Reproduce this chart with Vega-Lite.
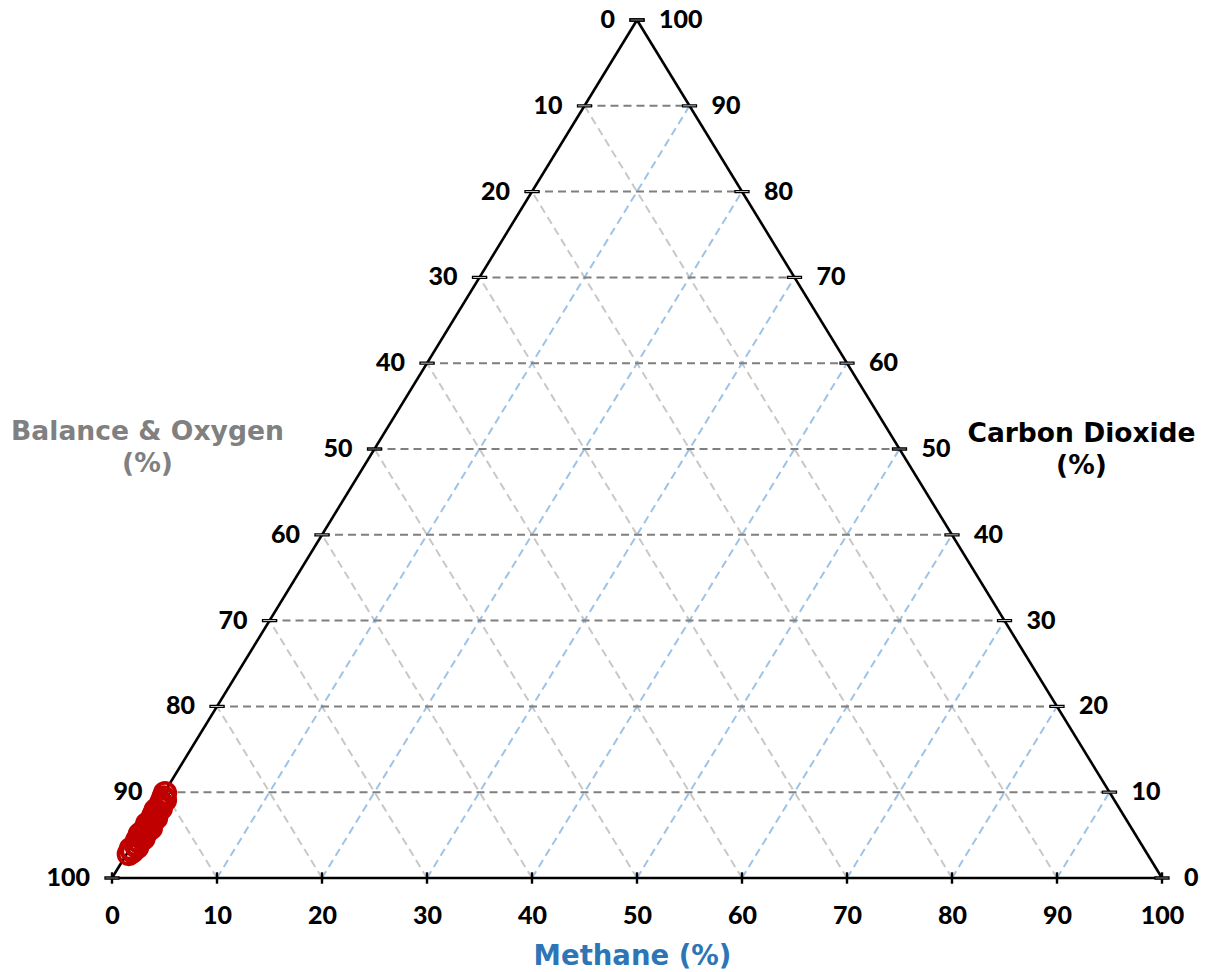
{
  "$schema": "https://vega.github.io/schema/vega-lite/v6.json",
  "width": 1050,
  "height": 858,
  "autosize": {"type": "none"},
  "padding": {"left": 112, "top": 20, "right": 45, "bottom": 94},
  "background": "white",
  "config": {"view": {"stroke": null}},
  "datasets": {
    "co2Lines": [
      {"m1": 0, "c1": 10, "m2": 90, "c2": 10},
      {"m1": 0, "c1": 20, "m2": 80, "c2": 20},
      {"m1": 0, "c1": 30, "m2": 70, "c2": 30},
      {"m1": 0, "c1": 40, "m2": 60, "c2": 40},
      {"m1": 0, "c1": 50, "m2": 50, "c2": 50},
      {"m1": 0, "c1": 60, "m2": 40, "c2": 60},
      {"m1": 0, "c1": 70, "m2": 30, "c2": 70},
      {"m1": 0, "c1": 80, "m2": 20, "c2": 80},
      {"m1": 0, "c1": 90, "m2": 10, "c2": 90}
    ],
    "balanceLines": [
      {"m1": 10, "c1": 0, "m2": 0, "c2": 10},
      {"m1": 20, "c1": 0, "m2": 0, "c2": 20},
      {"m1": 30, "c1": 0, "m2": 0, "c2": 30},
      {"m1": 40, "c1": 0, "m2": 0, "c2": 40},
      {"m1": 50, "c1": 0, "m2": 0, "c2": 50},
      {"m1": 60, "c1": 0, "m2": 0, "c2": 60},
      {"m1": 70, "c1": 0, "m2": 0, "c2": 70},
      {"m1": 80, "c1": 0, "m2": 0, "c2": 80},
      {"m1": 90, "c1": 0, "m2": 0, "c2": 90}
    ],
    "methaneLines": [
      {"m1": 10, "c1": 0, "m2": 10, "c2": 90},
      {"m1": 20, "c1": 0, "m2": 20, "c2": 80},
      {"m1": 30, "c1": 0, "m2": 30, "c2": 70},
      {"m1": 40, "c1": 0, "m2": 40, "c2": 60},
      {"m1": 50, "c1": 0, "m2": 50, "c2": 50},
      {"m1": 60, "c1": 0, "m2": 60, "c2": 40},
      {"m1": 70, "c1": 0, "m2": 70, "c2": 30},
      {"m1": 80, "c1": 0, "m2": 80, "c2": 20},
      {"m1": 90, "c1": 0, "m2": 90, "c2": 10}
    ],
    "edges": [
      {"m1": 0, "c1": 0, "m2": 100, "c2": 0},
      {"m1": 100, "c1": 0, "m2": 0, "c2": 100},
      {"m1": 0, "c1": 100, "m2": 0, "c2": 0}
    ],
    "leftTicks": [
      {"m": 0, "c": 100, "lab": "0"},
      {"m": 0, "c": 90, "lab": "10"},
      {"m": 0, "c": 80, "lab": "20"},
      {"m": 0, "c": 70, "lab": "30"},
      {"m": 0, "c": 60, "lab": "40"},
      {"m": 0, "c": 50, "lab": "50"},
      {"m": 0, "c": 40, "lab": "60"},
      {"m": 0, "c": 30, "lab": "70"},
      {"m": 0, "c": 20, "lab": "80"},
      {"m": 0, "c": 10, "lab": "90"},
      {"m": 0, "c": 0, "lab": "100"}
    ],
    "rightTicks": [
      {"m": 0, "c": 100, "lab": "100"},
      {"m": 10, "c": 90, "lab": "90"},
      {"m": 20, "c": 80, "lab": "80"},
      {"m": 30, "c": 70, "lab": "70"},
      {"m": 40, "c": 60, "lab": "60"},
      {"m": 50, "c": 50, "lab": "50"},
      {"m": 60, "c": 40, "lab": "40"},
      {"m": 70, "c": 30, "lab": "30"},
      {"m": 80, "c": 20, "lab": "20"},
      {"m": 90, "c": 10, "lab": "10"},
      {"m": 100, "c": 0, "lab": "0"}
    ],
    "bottomTicks": [
      {"m": 0, "c": 0}, {"m": 10, "c": 0}, {"m": 20, "c": 0}, {"m": 30, "c": 0},
      {"m": 40, "c": 0}, {"m": 50, "c": 0}, {"m": 60, "c": 0}, {"m": 70, "c": 0},
      {"m": 80, "c": 0}, {"m": 90, "c": 0}, {"m": 100, "c": 0}
    ],
    "samples": [
      {"methane": 0.2, "co2": 2.8},
      {"methane": 0.4, "co2": 3.1},
      {"methane": 0.1, "co2": 3.4},
      {"methane": 0.6, "co2": 3.6},
      {"methane": 0.3, "co2": 3.9},
      {"methane": 0.5, "co2": 4.2},
      {"methane": 0.2, "co2": 4.4},
      {"methane": 0.7, "co2": 4.6},
      {"methane": 0.4, "co2": 4.9},
      {"methane": 0.1, "co2": 5.1},
      {"methane": 0.6, "co2": 5.3},
      {"methane": 0.3, "co2": 5.6},
      {"methane": 0.8, "co2": 5.8},
      {"methane": 0.5, "co2": 6.0},
      {"methane": 0.2, "co2": 6.3},
      {"methane": 0.6, "co2": 6.5},
      {"methane": 0.4, "co2": 6.8},
      {"methane": 0.7, "co2": 7.0},
      {"methane": 0.3, "co2": 7.3},
      {"methane": 0.5, "co2": 7.6},
      {"methane": 0.2, "co2": 7.9},
      {"methane": 0.6, "co2": 8.1},
      {"methane": 0.4, "co2": 8.4},
      {"methane": 0.3, "co2": 8.8},
      {"methane": 0.5, "co2": 9.1},
      {"methane": 0.2, "co2": 9.4},
      {"methane": 0.1, "co2": 9.9}
    ]
  },
  "layer": [
    {
      "data": {"name": "balanceLines"},
      "transform": [
        {"calculate": "datum.m1 + datum.c1 / 2", "as": "x1"},
        {"calculate": "datum.m2 + datum.c2 / 2", "as": "x2"}
      ],
      "mark": {"type": "rule", "color": "#C8C8C8", "strokeWidth": 2, "strokeDash": [8, 5]},
      "encoding": {
        "x": {"field": "x1", "type": "quantitative", "scale": {"domain": [0, 100], "nice": false}, "axis": null},
        "x2": {"field": "x2"},
        "y": {"field": "c1", "type": "quantitative", "scale": {"domain": [0, 100], "nice": false}, "axis": null},
        "y2": {"field": "c2"}
      }
    },
    {
      "data": {"name": "methaneLines"},
      "transform": [
        {"calculate": "datum.m1 + datum.c1 / 2", "as": "x1"},
        {"calculate": "datum.m2 + datum.c2 / 2", "as": "x2"}
      ],
      "mark": {"type": "rule", "color": "#9DC3E6", "strokeWidth": 2, "strokeDash": [8, 5]},
      "encoding": {
        "x": {"field": "x1", "type": "quantitative", "axis": null},
        "x2": {"field": "x2"},
        "y": {"field": "c1", "type": "quantitative", "axis": null},
        "y2": {"field": "c2"}
      }
    },
    {
      "data": {"name": "co2Lines"},
      "transform": [
        {"calculate": "datum.m1 + datum.c1 / 2", "as": "x1"},
        {"calculate": "datum.m2 + datum.c2 / 2", "as": "x2"}
      ],
      "mark": {"type": "rule", "color": "#7F7F7F", "strokeWidth": 2, "strokeDash": [8, 5]},
      "encoding": {
        "x": {"field": "x1", "type": "quantitative", "axis": null},
        "x2": {"field": "x2"},
        "y": {"field": "c1", "type": "quantitative", "axis": null},
        "y2": {"field": "c2"}
      }
    },
    {
      "data": {"name": "edges"},
      "transform": [
        {"calculate": "datum.m1 + datum.c1 / 2", "as": "x1"},
        {"calculate": "datum.m2 + datum.c2 / 2", "as": "x2"}
      ],
      "mark": {"type": "rule", "color": "#000000", "strokeWidth": 2.6},
      "encoding": {
        "x": {"field": "x1", "type": "quantitative", "axis": null},
        "x2": {"field": "x2"},
        "y": {"field": "c1", "type": "quantitative", "axis": null},
        "y2": {"field": "c2"}
      }
    },
    {
      "data": {"name": "bottomTicks"},
      "transform": [{"calculate": "datum.m + datum.c / 2", "as": "px"}],
      "mark": {"type": "point", "shape": "M0,-1V1", "size": 130, "stroke": "#000000", "strokeWidth": 2.4, "filled": false, "opacity": 1},
      "encoding": {
        "x": {
          "field": "px", "type": "quantitative",
          "axis": {
            "orient": "bottom",
            "values": [0, 10, 20, 30, 40, 50, 60, 70, 80, 90, 100],
            "domain": false, "ticks": false, "grid": false,
            "labelFont": "Lato", "labelFontSize": 25, "labelFontWeight": 900, "labelColor": "#000000",
            "labelPadding": 37, "labelFlush": false, "labelOverlap": false, "labelBaseline": "middle",
            "title": "Methane (%)",
            "titleFont": "DejaVu Sans", "titleFontSize": 27.5, "titleFontWeight": "bold", "titleColor": "#2E75B6",
            "titleX": 520, "titleY": 86, "titleAlign": "center", "titleBaseline": "alphabetic"
          }
        },
        "y": {"field": "c", "type": "quantitative", "axis": null}
      }
    },
    {
      "data": {"name": "leftTicks"},
      "transform": [{"calculate": "datum.m + datum.c / 2", "as": "px"}],
      "mark": {"type": "point", "shape": "M-1,-0.14H1V0.14H-1Z", "size": 196, "fill": "#FFFFFF", "stroke": "#000000", "strokeWidth": 1.3, "filled": true, "opacity": 1},
      "encoding": {
        "x": {"field": "px", "type": "quantitative", "axis": null},
        "y": {
          "field": "c", "type": "quantitative",
          "axis": {
            "orient": "left", "labels": false, "ticks": false, "domain": false, "grid": false,
            "title": ["Balance & Oxygen", "(%)"],
            "titleFont": "DejaVu Sans", "titleFontSize": 26.6, "titleFontWeight": "bold", "titleColor": "#808080",
            "titleAngle": 0, "titleX": 35, "titleY": 419, "titleAlign": "center", "titleBaseline": "alphabetic",
            "titleLineHeight": 32
          }
        }
      }
    },
    {
      "data": {"name": "leftTicks"},
      "transform": [{"calculate": "datum.m + datum.c / 2", "as": "px"}],
      "mark": {"type": "text", "align": "right", "baseline": "middle", "dx": -22, "font": "Lato", "fontSize": 25, "fontWeight": 900, "color": "#000000"},
      "encoding": {
        "x": {"field": "px", "type": "quantitative", "axis": null},
        "y": {"field": "c", "type": "quantitative", "axis": null},
        "text": {"field": "lab"}
      }
    },
    {
      "data": {"name": "rightTicks"},
      "transform": [{"calculate": "datum.m + datum.c / 2", "as": "px"}],
      "mark": {"type": "point", "shape": "M-1,-0.14H1V0.14H-1Z", "size": 196, "fill": "#FFFFFF", "stroke": "#000000", "strokeWidth": 1.3, "filled": true, "opacity": 1},
      "encoding": {
        "x": {"field": "px", "type": "quantitative", "axis": null},
        "y": {
          "field": "c", "type": "quantitative",
          "axis": {
            "orient": "right", "labels": false, "ticks": false, "domain": false, "grid": false,
            "title": ["Carbon Dioxide", "(%)"],
            "titleFont": "DejaVu Sans", "titleFontSize": 26.5, "titleFontWeight": "bold", "titleColor": "#000000",
            "titleAngle": 0, "titleX": -81, "titleY": 421, "titleAlign": "center", "titleBaseline": "alphabetic",
            "titleLineHeight": 32
          }
        }
      }
    },
    {
      "data": {"name": "rightTicks"},
      "transform": [{"calculate": "datum.m + datum.c / 2", "as": "px"}],
      "mark": {"type": "text", "align": "left", "baseline": "middle", "dx": 22, "font": "Lato", "fontSize": 25, "fontWeight": 900, "color": "#000000"},
      "encoding": {
        "x": {"field": "px", "type": "quantitative", "axis": null},
        "y": {"field": "c", "type": "quantitative", "axis": null},
        "text": {"field": "lab"}
      }
    },
    {
      "data": {"name": "samples"},
      "transform": [{"calculate": "datum.methane + datum.co2 / 2", "as": "px"}],
      "mark": {"type": "point", "filled": false, "color": "#C00000", "strokeWidth": 3.8, "size": 420, "opacity": 1},
      "encoding": {
        "x": {"field": "px", "type": "quantitative", "axis": null},
        "y": {"field": "co2", "type": "quantitative", "axis": null}
      }
    }
  ],
  "resolve": {"axis": {"x": "independent", "y": "independent"}}
}
